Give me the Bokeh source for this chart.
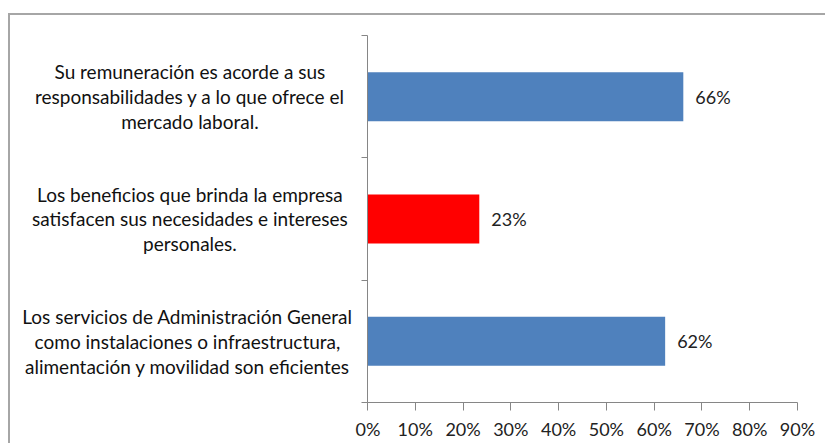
from bokeh.plotting import figure
from bokeh.layouts import row
from bokeh.models import FixedTicker, NumeralTickFormatter, ColumnDataSource, LabelSet
from bokeh.core.properties import value
from bokeh.embed import file_html
from bokeh.resources import INLINE

# ---- data ----
categories = [
    "Su remuneración es acorde a sus\nresponsabilidades y a lo que ofrece el\nmercado laboral.",
    "Los beneficios que brinda la empresa\nsatisfacen sus necesidades e intereses\npersonales.",
    "Los servicios de Administración  General\ncomo instalaciones  o infraestructura,\nalimentación y movilidad  son eficientes",
]
values = [0.661, 0.234, 0.623]
bar_colors = ["#4F81BD", "#FF0000", "#4F81BD"]
x_ticks = [0, 0.1, 0.2, 0.3, 0.4, 0.5, 0.6, 0.7, 0.8, 0.9]

n = len(categories)
# first category at top
ypos = [n - i - 0.5 for i in range(n)]
labels = [f"{round(v * 100)}%" for v in values]

src = ColumnDataSource(dict(y=ypos, v=values, c=bar_colors, lab=labels,
                            cat=categories, mid=[0.52] * n))

FONT = "Lato"
TOP, FRAME_H, BOTTOM = 20, 367, 41

# main chart
p = figure(
    frame_width=430, frame_height=FRAME_H,
    x_range=(0, 0.9), y_range=(0, n),
    output_backend="svg", toolbar_location=None,
    min_border_left=12, min_border_right=28,
    min_border_top=TOP, min_border_bottom=BOTTOM,
)
p.outline_line_color = None
p.xgrid.grid_line_color = None
p.ygrid.grid_line_color = None

p.hbar(y="y", right="v", left=0, height=0.4, fill_color="c", line_color=None, source=src)

p.add_layout(LabelSet(x="v", y="y", text="lab", source=src, x_offset=12,
                      text_baseline="middle", text_font=value(FONT),
                      text_font_size="18px", text_color="#222222"))

xa = p.xaxis[0]
xa.ticker = FixedTicker(ticks=x_ticks)
xa.formatter = NumeralTickFormatter(format="0%")
xa.axis_line_color = "#868686"
xa.major_tick_line_color = "#868686"
xa.major_tick_out = 8
xa.major_tick_in = 0
xa.minor_tick_line_color = None
xa.major_label_text_font = FONT
xa.major_label_text_font_size = "18px"
xa.major_label_text_color = "#222222"
xa.major_label_standoff = 7

ya = p.yaxis[0]
ya.ticker = FixedTicker(ticks=list(range(n + 1)))
ya.major_label_overrides = {t: "" for t in range(n + 1)}
ya.major_label_standoff = 0
ya.axis_line_color = "#868686"
ya.major_tick_line_color = "#868686"
ya.major_tick_out = 6
ya.major_tick_in = 0
ya.minor_tick_line_color = None

# category label panel (shares the y range with the chart)
q = figure(
    frame_width=345, frame_height=FRAME_H,
    x_range=(0, 1), y_range=p.y_range,
    x_axis_type=None, y_axis_type=None,
    output_backend="svg", toolbar_location=None,
    min_border_left=0, min_border_right=0,
    min_border_top=TOP, min_border_bottom=BOTTOM,
)
q.outline_line_color = None
q.xgrid.grid_line_color = None
q.ygrid.grid_line_color = None
q.text(x="mid", y="y", text="cat", source=src, text_align="center",
       text_baseline="middle", text_font=value(FONT), text_font_size="19px",
       text_line_height=1.08, text_color="#111111")

layout = row(q, p)
layout.styles = {
    "border-top": "2px solid #a6a6a6",
    "border-left": "2px solid #a6a6a6",
    "margin-top": "13px",
    "margin-left": "8px",
}

open("out.html", "w").write(file_html(layout, INLINE))
